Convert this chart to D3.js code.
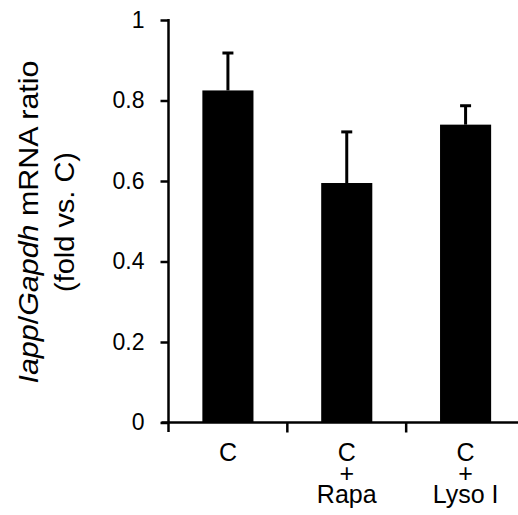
<!DOCTYPE html>
<html lang="en">
<head>
  <meta charset="UTF-8">
  <title>iapp bars</title>
  <script src="https://d3js.org/d3.v7.min.js"></script>
  <style>
    body {
      margin: 0;
      padding: 0;
      background: #fff;
    }
    svg text {
      font-family: "Liberation Sans", Arial, sans-serif;
      fill: #000;
    }
  </style>
</head>
<body>
  <div id="chart"></div>
</body>
<script>
  const categories = ['C', 'C+Rapa', 'C+Lyso I']
  const labelLines = [['C'], ['C', '+', 'Rapa'], ['C', '+', 'Lyso I']]
  const values = [0.825, 0.595, 0.74]
  const errors = [0.093, 0.127, 0.047]
  const yTicks = [0, 0.2, 0.4, 0.6, 0.8, 1]

  const width = 518
  const height = 515

  const svg = d3.select('#chart')
    .append('svg')
    .attr('width', width)
    .attr('height', height)

  const axisX = 168.5
  const y = d3.scaleLinear().domain([0, 1]).range([422.5, 20])
  const x = d3.scaleBand().domain(categories).range([axisX, 525]).padding(0)
  const barW = x.bandwidth() * 0.43

  // bars
  svg.append('g')
    .selectAll('rect')
    .data(categories)
    .join('rect')
    .attr('x', d => x(d) + (x.bandwidth() - barW) / 2)
    .attr('width', barW)
    .attr('y', (d, i) => y(values[i]))
    .attr('height', (d, i) => y(0) - y(values[i]))
    .attr('fill', '#000')

  // error bars (upper only)
  const err = svg.append('g').attr('stroke', '#000').attr('stroke-width', 3)
  categories.forEach((c, i) => {
    const cx = x(c) + x.bandwidth() / 2
    err.append('line')
      .attr('x1', cx).attr('x2', cx)
      .attr('y1', y(values[i])).attr('y2', y(values[i] + errors[i]))
    err.append('line')
      .attr('x1', cx - 5.5).attr('x2', cx + 5.5)
      .attr('y1', y(values[i] + errors[i])).attr('y2', y(values[i] + errors[i]))
  })

  // y axis
  const yAxis = svg.append('g')
    .attr('transform', `translate(${axisX},0)`)
    .call(d3.axisLeft(y).tickValues(yTicks).tickSize(8).tickPadding(16).tickFormat(d3.format('')))
  yAxis.select('.domain').remove()
  yAxis.selectAll('.tick line').attr('stroke', '#000').attr('stroke-width', 2.5)
  yAxis.selectAll('.tick text').attr('font-size', 23).attr('font-family', '"Liberation Sans", Arial, sans-serif')
  yAxis.append('line')
    .attr('x1', 0).attr('x2', 0)
    .attr('y1', y(1) - 1).attr('y2', 432)
    .attr('stroke', '#000').attr('stroke-width', 2.5)

  // x axis
  const xAxis = svg.append('g')
  xAxis.append('line')
    .attr('x1', axisX - 7).attr('x2', width)
    .attr('y1', y(0)).attr('y2', y(0))
    .attr('stroke', '#000').attr('stroke-width', 2.5)
  xAxis.selectAll('.xt')
    .data(categories.slice(1))
    .join('line')
    .attr('class', 'xt')
    .attr('x1', d => x(d)).attr('x2', d => x(d))
    .attr('y1', y(0)).attr('y2', y(0) + 10)
    .attr('stroke', '#000').attr('stroke-width', 2.5)

  const lab = xAxis.selectAll('.xl')
    .data(categories)
    .join('text')
    .attr('class', 'xl')
    .attr('text-anchor', 'middle')
    .attr('font-size', 25)
  lab.each(function(d, i) {
    const cx = x(d) + x.bandwidth() / 2
    d3.select(this).selectAll('tspan')
      .data(labelLines[i])
      .join('tspan')
      .attr('x', cx)
      .attr('y', (t, j) => 461 + j * 21)
      .text(t => t)
  })

  // y title
  const t1 = svg.append('text')
    .attr('transform', 'translate(38,222) rotate(-90)')
    .attr('text-anchor', 'middle')
    .attr('font-size', 28)
    .attr('textLength', 323)
    .attr('lengthAdjust', 'spacingAndGlyphs')
  t1.append('tspan').attr('font-style', 'italic').text('Iapp')
  t1.append('tspan').text('/')
  t1.append('tspan').attr('font-style', 'italic').text('Gapdh')
  t1.append('tspan').text(' mRNA ratio')

  svg.append('text')
    .attr('transform', 'translate(74,222) rotate(-90)')
    .attr('text-anchor', 'middle')
    .attr('font-size', 28)
    .attr('textLength', 140)
    .attr('lengthAdjust', 'spacingAndGlyphs')
    .text('(fold vs. C)')
</script>
</html>
